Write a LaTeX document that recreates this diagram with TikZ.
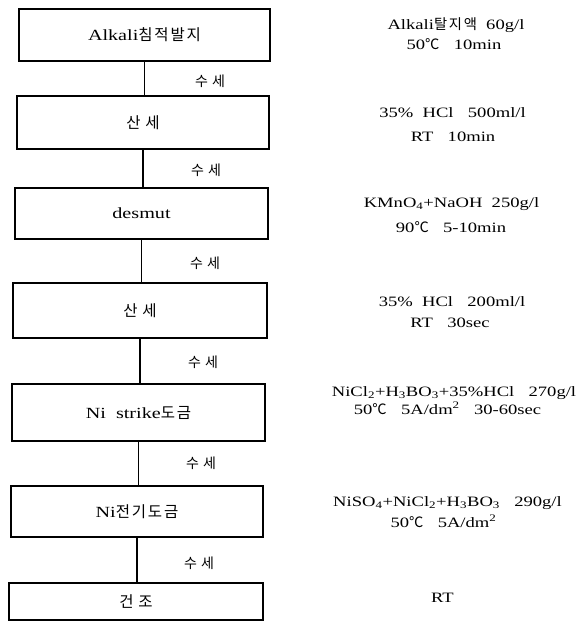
\documentclass[tikz,border=0pt]{standalone}
\usepackage{fontspec}
\setmainfont{Liberation Serif}[FakeStretch=1.3]
\newfontfamily\kr{Noto Sans CJK KR}[LetterSpace=30]
\newfontfamily\krtight{Noto Sans CJK KR}[LetterSpace=12]
\newfontfamily\krsym{Noto Sans CJK KR}
\newcommand{\degc}{{\krsym ℃}}
\begin{document}
\begin{tikzpicture}[x=1pt,y=-1pt,
  stepbox/.style={draw=black, line width=1.2pt, inner sep=0pt,
    font=\fontsize{15.5}{18}\selectfont},
  wash/.style={font=\fontsize{14}{16}\selectfont\kr},
  cond/.style={anchor=base, inner sep=0pt, font=\fontsize{14.3}{18}\selectfont},
  link/.style={draw=black, line width=1.2pt}]
\useasboundingbox (0,0) rectangle (579,623);
\fill[white] (0,0) rectangle (579,623);
% process boxes
\node[stepbox, minimum width=251pt, minimum height=52pt] (b1) at (144.5,35) {Alkali{\krtight 침적발지}};
\node[stepbox, minimum width=252pt, minimum height=53pt] (b2) at (143,122.5) {{\kr 산세}};
\node[stepbox, minimum width=253pt, minimum height=51pt] (b3) at (141.5,213.5) {desmut};
\node[stepbox, minimum width=254pt, minimum height=55pt] (b4) at (140,310.5) {{\kr 산세}};
\node[stepbox, minimum width=253pt, minimum height=57pt] (b5) at (138.5,412.5) {Ni\ \ strike{\krtight 도금}};
\node[stepbox, minimum width=252pt, minimum height=51pt] (b6) at (137,511.5) {Ni{\krtight 전기도금}};
\node[stepbox, minimum width=254pt, minimum height=37pt] (b7) at (136,601.5) {{\kr 건조}};
% connectors
\draw[link] (b1.south) -- (b1.south |- b2.north);
\draw[link] (b2.south) -- (b2.south |- b3.north);
\draw[link] (b3.south) -- (b3.south |- b4.north);
\draw[link] (b4.south) -- (b4.south |- b5.north);
\draw[link] (b5.south) -- (b5.south |- b6.north);
\draw[link] (b6.south) -- (b6.south |- b7.north);
% washing labels
\node[wash] (w1) at (210,81) {수세};
\node[wash] (w2) at (206,170) {수세};
\node[wash] (w3) at (205,263) {수세};
\node[wash] (w4) at (203,362) {수세};
\node[wash] (w5) at (201,463) {수세};
\node[wash] (w6) at (199,563) {수세};
% conditions
\node[cond] (c1a) at (456,29.6) {Alkali{\krtight 탈지액}\ \ 60g/l};
\node[cond] (c1b) at (454,49.6) {50\degc\quad 10min};
\node[cond] (c2a) at (452.5,117.6) {35\%\ \ HCl\quad 500ml/l};
\node[cond] (c2b) at (453,141.6) {RT\quad 10min};
\node[cond] (c3a) at (451.5,207.6) {KMnO\textsubscript{4}+NaOH\ \ 250g/l};
\node[cond] (c3b) at (451,232.6) {90\degc\quad 5-10min};
\node[cond] (c4a) at (452,306.6) {35\%\ \ HCl\quad 200ml/l};
\node[cond] (c4b) at (450,327.6) {RT\quad 30sec};
\node[cond] (c5a) at (454,396.6) {NiCl\textsubscript{2}+H\textsubscript{3}BO\textsubscript{3}+35\%HCl\quad 270g/l};
\node[cond] (c5b) at (447.5,414) {50\degc\quad 5A/dm\textsuperscript{2}\quad 30-60sec};
\node[cond] (c6a) at (447.5,506.6) {NiSO\textsubscript{4}+NiCl\textsubscript{2}+H\textsubscript{3}BO\textsubscript{3}\quad 290g/l};
\node[cond] (c6b) at (443.5,527) {50\degc\quad 5A/dm\textsuperscript{2}};
\node[cond] (c7) at (442.5,602.6) {RT};
\end{tikzpicture}
\end{document}
